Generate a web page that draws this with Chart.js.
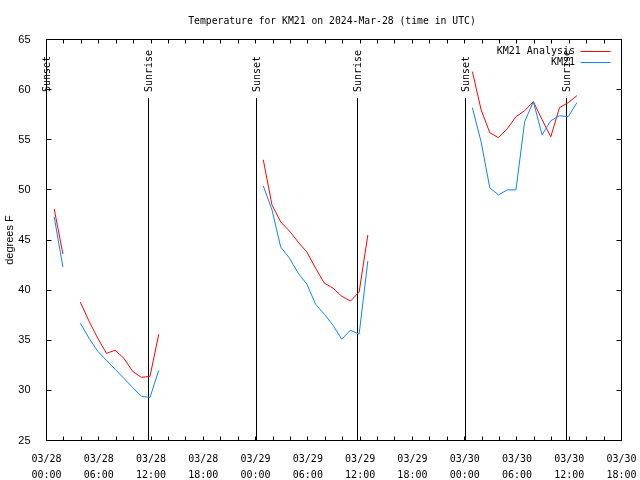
<!DOCTYPE html>
<html>
<head>
<meta charset="utf-8">
<script src="https://cdn.jsdelivr.net/npm/chart.js@4.4.1/dist/chart.umd.min.js"></script>
<style>
html,body{margin:0;padding:0;background:#ffffff;}
#wrap{width:640px;height:480px;}
</style>
</head>
<body>
<div id="wrap"><canvas id="c" width="640" height="480"></canvas></div>
<script>
const chartTitle = 'Temperature for KM21 on 2024-Mar-28 (time in UTC)';
const yAxisTitle = 'degrees F';
const seriesNames = ['KM21 Analysis', 'KM21'];
const seriesColors = ['#ff0000', '#0a84ff'];

const obsTimes = [
  '2024-03-28T00:53Z','2024-03-28T01:53Z','2024-03-28T02:53Z','2024-03-28T03:53Z','2024-03-28T04:53Z',
  '2024-03-28T05:53Z','2024-03-28T06:53Z','2024-03-28T07:53Z','2024-03-28T08:53Z','2024-03-28T09:53Z',
  '2024-03-28T10:53Z','2024-03-28T11:53Z','2024-03-28T12:53Z','2024-03-28T13:53Z',
  '2024-03-29T00:53Z','2024-03-29T01:53Z','2024-03-29T02:53Z','2024-03-29T03:53Z','2024-03-29T04:53Z',
  '2024-03-29T05:53Z','2024-03-29T06:53Z','2024-03-29T07:53Z','2024-03-29T08:53Z','2024-03-29T09:53Z',
  '2024-03-29T10:53Z','2024-03-29T11:53Z','2024-03-29T12:53Z','2024-03-29T13:53Z',
  '2024-03-30T00:53Z','2024-03-30T01:53Z','2024-03-30T02:53Z','2024-03-30T03:53Z','2024-03-30T04:53Z',
  '2024-03-30T05:53Z','2024-03-30T06:53Z','2024-03-30T07:53Z','2024-03-30T08:53Z','2024-03-30T09:53Z',
  '2024-03-30T10:53Z','2024-03-30T11:53Z','2024-03-30T12:53Z'
];
const analysisTemps = [
  48.1, 43.6, null, 38.8, 36.9, 35.2, 33.7, 34.0, 33.2, 31.9, 31.3, 31.4, 35.6, null,
  53.0, 48.5, 46.8, 45.9, 44.8, 43.8, 42.2, 40.7, 40.2, 39.4, 38.9, 39.8, 45.5, null,
  61.8, 58.0, 55.7, 55.2, 56.1, 57.3, 57.9, 58.8, 57.0, 55.3, 58.2, 58.7, 59.4
];
const stationTemps = [
  47.3, 42.3, null, 36.7, 35.2, 33.9, 33.0, 32.1, 31.2, 30.3, 29.4, 29.3, 32.0, null,
  50.4, 48.0, 44.3, 43.2, 41.7, 40.6, 38.6, 37.6, 36.5, 35.1, 36.0, 35.6, 42.9, null,
  58.2, 54.8, 50.2, 49.5, 50.0, 50.0, 56.8, 58.8, 55.5, 56.9, 57.4, 57.3, 58.7
];
const sunsetTimes = ['2024-03-28T00:00Z','2024-03-29T00:06Z','2024-03-30T00:05Z'];
const sunriseTimes = ['2024-03-28T11:44Z','2024-03-29T11:42Z','2024-03-30T11:41Z'];
const xTickDates = ['03/28','03/28','03/28','03/28','03/29','03/29','03/29','03/29','03/30','03/30','03/30','03/30'];
const xTickTimes = ['00:00','06:00','12:00','18:00','00:00','06:00','12:00','18:00','00:00','06:00','12:00','18:00'];
const yTickValues = [25, 30, 35, 40, 45, 50, 55, 60, 65];

const baseTime = Date.parse('2024-03-28T00:00Z');
const toHours = s => (Date.parse(s) - baseTime) / 3600000;

const mono = '"DejaVu Sans Mono", "Liberation Mono", monospace';
const sans = '"Liberation Sans", Arial, sans-serif';

const decor = {
  id: 'decor',
  beforeDatasetsDraw(chart) {
    const {ctx, chartArea: a, scales: {x, y}} = chart;
    ctx.save();
    ctx.strokeStyle = '#000';
    ctx.fillStyle = '#000';
    ctx.lineWidth = 1;
    // ticks (inward) every 2 hours on x, every 5 degrees on y
    ctx.beginPath();
    for (let h = x.min; h <= x.max; h += 2) {
      const px = Math.floor(x.getPixelForValue(h)) + 0.5;
      ctx.moveTo(px, a.bottom); ctx.lineTo(px, a.bottom - 4);
      ctx.moveTo(px, a.top); ctx.lineTo(px, a.top + 4);
    }
    yTickValues.forEach(v => {
      const py = Math.floor(y.getPixelForValue(v)) + 0.5;
      ctx.moveTo(a.left, py); ctx.lineTo(a.left + 5, py);
      ctx.moveTo(a.right, py); ctx.lineTo(a.right - 5, py);
    });
    ctx.stroke();
    // sunrise / sunset markers
    const marks = sunsetTimes.map(t => [t, 'Sunset']).concat(sunriseTimes.map(t => [t, 'Sunrise']));
    ctx.font = '10px ' + mono;
    marks.forEach(([t, label]) => {
      const px = Math.floor(x.getPixelForValue(toHours(t))) + 0.5;
      ctx.beginPath();
      ctx.moveTo(px, a.bottom);
      ctx.lineTo(px, a.top + 58.5);
      ctx.stroke();
      ctx.save();
      ctx.translate(px + 0.5, a.top + 52.5);
      ctx.rotate(-Math.PI / 2);
      ctx.textAlign = 'left';
      ctx.textBaseline = 'middle';
      ctx.fillText(label, 0, 0);
      ctx.restore();
    });
    // frame
    ctx.strokeRect(a.left, a.top, a.right - a.left, a.bottom - a.top);
    // title
    ctx.font = '9.75px ' + mono;
    ctx.textAlign = 'center';
    ctx.textBaseline = 'middle';
    ctx.fillText(chartTitle, (a.left + a.right) / 2 - 2, 21);
    ctx.restore();
  },
  afterDraw(chart) {
    const {ctx, chartArea: a} = chart;
    ctx.save();
    ctx.font = '10px ' + mono;
    ctx.textAlign = 'right';
    ctx.textBaseline = 'middle';
    ctx.lineWidth = 1;
    const rows = [51, 62.5];
    seriesNames.forEach((name, i) => {
      ctx.fillStyle = '#000';
      ctx.fillText(name, a.right - 46.5, rows[i]);
      ctx.strokeStyle = seriesColors[i];
      ctx.beginPath();
      const ly = Math.floor(rows[i]) + 0.5;
      ctx.moveTo(a.right - 41, ly);
      ctx.lineTo(a.right - 11, ly);
      ctx.stroke();
    });
    ctx.restore();
  }
};

const mkData = vals => obsTimes.map((t, i) => ({x: toHours(t), y: vals[i]}));

new Chart(document.getElementById('c'), {
  type: 'line',
  data: {
    datasets: [
      {label: seriesNames[0], data: mkData(analysisTemps), borderColor: seriesColors[0], borderWidth: 1,
       pointRadius: 0, tension: 0, spanGaps: false, fill: false, order: 1},
      {label: seriesNames[1], data: mkData(stationTemps), borderColor: seriesColors[1], borderWidth: 1,
       pointRadius: 0, tension: 0, spanGaps: false, fill: false, order: 0}
    ]
  },
  options: {
    responsive: false,
    animation: false,
    devicePixelRatio: 1,
    layout: {padding: {left: 0, top: 39.5, right: 18.5, bottom: 0}},
    plugins: {legend: {display: false}, title: {display: false}, tooltip: {enabled: false}},
    scales: {
      x: {
        type: 'linear', min: 0, max: 66,
        grid: {display: false}, border: {display: false},
        afterFit: s => { s.height = 39.5; },
        ticks: {
          stepSize: 6, autoSkip: false, maxRotation: 0, minRotation: 0, padding: 3, color: '#000',
          font: {family: mono, size: 10, lineHeight: '16px'},
          callback: v => { const i = Math.round(v / 6); return [xTickDates[i], xTickTimes[i]]; }
        }
      },
      y: {
        type: 'linear', min: 25, max: 65,
        grid: {display: false}, border: {display: false},
        afterFit: s => { s.width = 46.5; },
        ticks: {stepSize: 5, padding: 8, color: '#000', font: {family: sans, size: 11}},
        title: {display: true, text: yAxisTitle, color: '#000', font: {family: sans, size: 11}, padding: {top: 3, bottom: 0}}
      }
    }
  },
  plugins: [decor]
});
</script>
</body>
</html>
